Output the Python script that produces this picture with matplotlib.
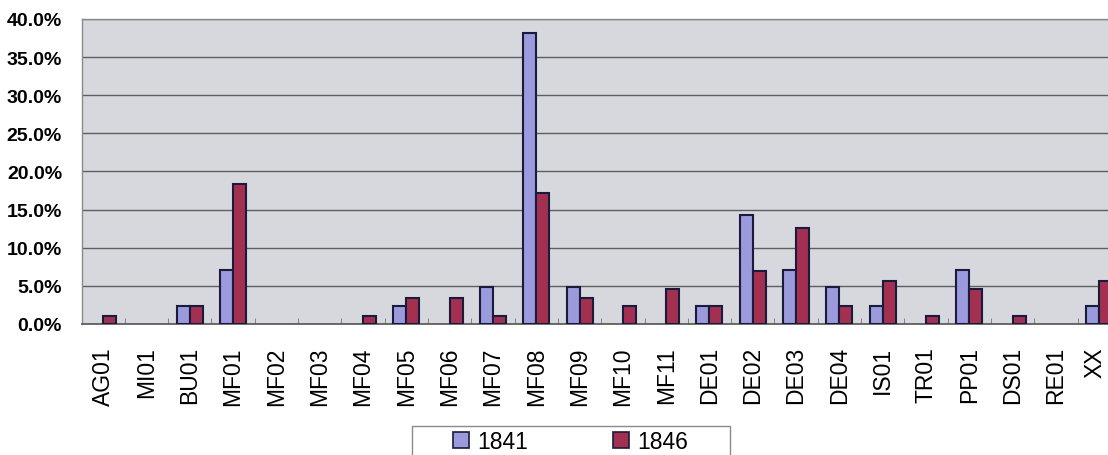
import numpy as np
import matplotlib
matplotlib.use("Agg")
import matplotlib.pyplot as plt
import matplotlib.transforms as mtransforms
from matplotlib.patches import Patch, Rectangle
from matplotlib.ticker import FuncFormatter, MultipleLocator

plt.rcParams['font.family'] = ['Liberation Sans', 'DejaVu Sans']

# data (percent)
categories = ['AG01', 'MI01', 'BU01', 'MF01', 'MF02', 'MF03', 'MF04', 'MF05',
              'MF06', 'MF07', 'MF08', 'MF09', 'MF10', 'MF11', 'DE01', 'DE02',
              'DE03', 'DE04', 'IS01', 'TR01', 'PP01', 'DS01', 'RE01', 'XX']
share_1841 = [0, 0, 2.4, 7.1, 0, 0, 0, 2.4, 0, 4.8, 38.1, 4.8,
              0, 0, 2.4, 14.3, 7.1, 4.8, 2.4, 0, 7.1, 0, 0, 2.4]
share_1846 = [1.1, 0, 2.3, 18.4, 0, 0, 1.1, 3.4, 3.4, 1.1, 17.2, 3.4,
              2.3, 4.6, 2.3, 6.9, 12.6, 2.3, 5.7, 1.1, 4.6, 1.1, 0, 5.7]
series_labels = ['1841', '1846']

blue = '#9a9adc'
red = '#a33050'
edge = '#1a1a3c'

fig = plt.figure(figsize=(11.08, 4.56), dpi=100)
ax = fig.add_axes([0.0736, 0.2873, 0.938, 0.6689])
ax.set_facecolor('#d6d8de')

x = np.arange(len(categories))
w = 0.3
# no outline on empty bars, so they don't show as flat lines
lw_1841 = [1.5 if v > 0 else 0 for v in share_1841]
lw_1846 = [1.5 if v > 0 else 0 for v in share_1846]
ax.bar(x - w / 2, share_1841, width=w, color=blue, edgecolor=edge, linewidth=lw_1841, zorder=3)
ax.bar(x + w / 2, share_1846, width=w, color=red, edgecolor=edge, linewidth=lw_1846, zorder=3)

ax.set_xlim(-0.5, len(categories) - 0.5)
ax.set_ylim(0, 40)
ax.yaxis.set_major_locator(MultipleLocator(5))
ax.yaxis.set_major_formatter(FuncFormatter(lambda v, p: f'{v:.1f}%'))
ax.grid(axis='y', color='#5e5e5e', linewidth=1, zorder=1)

ax.set_xticks(x)
ax.set_xticklabels(categories, rotation=90, fontsize=16.5, va='top')
ax.set_xticks(x[:-1] + 0.5, minor=True)
ax.tick_params(axis='x', which='major', length=0, pad=16)
ax.tick_params(axis='x', which='minor', direction='in', length=4, color='#777777')
ax.tick_params(axis='y', length=0, pad=14, labelsize=14)
for lbl in ax.get_yticklabels():
    lbl.set_fontweight('bold')

# last label sits at the very edge of the picture, nudge it in a bit
last = ax.get_xticklabels()[-1]
last.set_transform(last.get_transform() +
                   mtransforms.ScaledTranslation(-4 / 100, 0, fig.dpi_scale_trans))

for side in ['left', 'top', 'right']:
    ax.spines[side].set_color('#8a8a8a')
    ax.spines[side].set_linewidth(1)
ax.spines['bottom'].set_color('#555555')
ax.spines['bottom'].set_linewidth(1.2)

# legend
handles = [Patch(facecolor=blue, edgecolor=edge, linewidth=1.2),
           Patch(facecolor=red, edgecolor=edge, linewidth=1.2)]
fig.legend(handles, series_labels, loc='upper left', ncol=2,
           bbox_to_anchor=(453 / 1108, 1 - 431 / 456), frameon=False,
           fontsize=16.5, handlelength=0.7, handleheight=0.7,
           handletextpad=0.35, columnspacing=3.7, borderpad=0, borderaxespad=0)
fig.patches.append(Rectangle((412 / 1108, -0.05), 318 / 1108, 0.05 + 29 / 456,
                             transform=fig.transFigure, fill=False,
                             edgecolor='#8a8a8a', linewidth=1))

fig.savefig('out.png', dpi=100)
